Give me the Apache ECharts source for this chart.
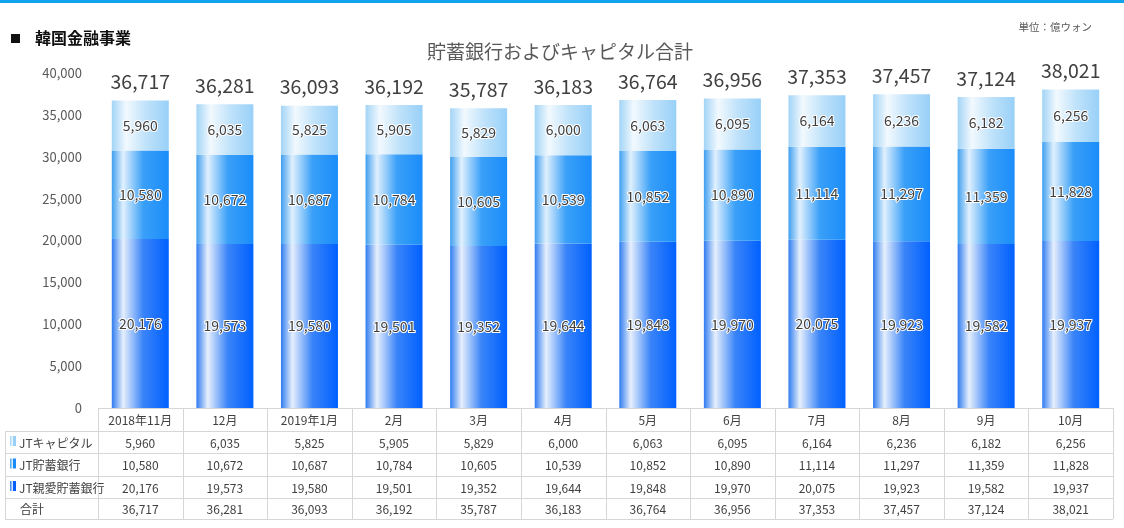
<!DOCTYPE html>
<html><head><meta charset="utf-8">
<script src="https://cdn.jsdelivr.net/npm/echarts@6/dist/echarts.min.js"></script>
<style>html,body{margin:0;padding:0;background:#fff}#c{width:1124px;height:528px}</style>
</head><body><div id="c"></div>
<script>
const categories = ['2018年11月','12月','2019年1月','2月','3月','4月','5月','6月','7月','8月','9月','10月'];
const capital = [5960,6035,5825,5905,5829,6000,6063,6095,6164,6236,6182,6256];
const savings = [10580,10672,10687,10784,10605,10539,10852,10890,11114,11297,11359,11828];
const shinai = [20176,19573,19580,19501,19352,19644,19848,19970,20075,19923,19582,19937];
const totals = [36717,36281,36093,36192,35787,36183,36764,36956,37353,37457,37124,38021];
const seriesNames = ['JTキャピタル','JT貯蓄銀行','JT親愛貯蓄銀行'];
const totalName = '合計';

(function(){
const FONT = '"Noto Sans CJK JP","Noto Sans",sans-serif';
const fmt = v => v.toLocaleString('en-US');
function grad(stops){
  return new echarts.graphic.LinearGradient(0,0,1,0, stops.map(s=>({offset:s[0],color:s[1]})));
}
const gShinai = () => grad([[0,'#2f7cf0'],[0.2,'#e6effc'],[0.55,'#3a84f8'],[1,'#0060ff']]);
const gSavings = () => grad([[0,'#3f9ff0'],[0.2,'#e0f0fd'],[0.55,'#3aa0f8'],[1,'#1a8cfa']]);
const gCapital = () => grad([[0,'#a2d4f6'],[0.25,'#f2f9fe'],[0.6,'#bfe2fa'],[1,'#98d0f8']]);

const segLabel = {
  show:true, position:'inside', fontSize:14, color:'#404040', fontFamily:FONT,
  textBorderColor:'#ffffff', textBorderWidth:2, formatter:p=>fmt(p.value)
};

const chart = echarts.init(document.getElementById('c'));
chart.setOption({
  animation:false,
  backgroundColor:'#fff',
  grid:{left:98,right:11,top:73,bottom:120,containLabel:false},
  xAxis:{type:'category',data:categories,axisLine:{show:false},axisTick:{show:false},axisLabel:{show:false}},
  yAxis:{type:'value',min:0,max:40000,interval:5000,
    axisLine:{show:false},axisTick:{show:false},splitLine:{show:false},
    axisLabel:{margin:16,fontSize:13,color:'#595959',fontFamily:FONT,formatter:v=>fmt(v)}},
  series:[
    {name:seriesNames[2],type:'bar',stack:'a',data:shinai,barWidth:57,itemStyle:{color:gShinai()},label:segLabel},
    {name:seriesNames[1],type:'bar',stack:'a',data:savings,barWidth:57,itemStyle:{color:gSavings()},label:segLabel},
    {name:seriesNames[0],type:'bar',stack:'a',data:capital,barWidth:57,itemStyle:{color:gCapital()},
      label:segLabel},
    {name:totalName,type:'bar',stack:'a',data:capital.map(()=>0),barWidth:57,silent:true,
      label:{show:true,position:'top',distance:9,fontSize:19.5,color:'#404040',fontFamily:FONT,
        formatter:p=>fmt(totals[p.dataIndex])}}
  ]
});

const g = [];
const tableTop = 408, rowH = [23,22,23,22,21];
const rowY = [tableTop]; rowH.forEach(h=>rowY.push(rowY[rowY.length-1]+h));
const cx0 = chart.convertToPixel({xAxisIndex:0},0);
const cx1 = chart.convertToPixel({xAxisIndex:0},1);
const colW = cx1-cx0;
const tLeft = cx0-colW/2, tRight = chart.convertToPixel({xAxisIndex:0},categories.length-1)+colW/2;
const labLeft = 5;
const lineStyle = {stroke:'#d6d6d6',lineWidth:1};
g.push({type:'line',shape:{x1:tLeft,y1:rowY[0]+0.5,x2:tRight,y2:rowY[0]+0.5},style:lineStyle});
for(let r=1;r<rowY.length;r++){
  g.push({type:'line',shape:{x1:labLeft,y1:rowY[r]+0.5,x2:tRight,y2:rowY[r]+0.5},style:lineStyle});
}
g.push({type:'line',shape:{x1:labLeft+0.5,y1:rowY[1],x2:labLeft+0.5,y2:rowY[5]},style:lineStyle});
for(let i=0;i<=categories.length;i++){
  const x = Math.round(tLeft+i*colW)+0.5;
  g.push({type:'line',shape:{x1:x,y1:rowY[0],x2:x,y2:rowY[5]},style:lineStyle});
}
const rows = [
  {name:seriesNames[0],data:capital,icon:['#a2d4f6','#f2f9fe','#98d0f8']},
  {name:seriesNames[1],data:savings,icon:['#3f9ff0','#e0f0fd','#1a8cfa']},
  {name:seriesNames[2],data:shinai,icon:['#2f7cf0','#e6effc','#0060ff']},
  {name:totalName,data:totals,icon:null}
];
const tStyle = (t,x,y,align)=>({type:'text',x:x,y:y,style:{text:t,fill:'#404040',font:'12px '+FONT,align:align,verticalAlign:'middle'}});
categories.forEach((c,i)=>{
  const cx = chart.convertToPixel({xAxisIndex:0},i);
  g.push(tStyle(c,cx,(rowY[0]+rowY[1])/2+1,'center'));
  rows.forEach((r,k)=>{
    g.push(tStyle(fmt(r.data[i]),cx,(rowY[k+1]+rowY[k+2])/2+1,'center'));
  });
});
rows.forEach((r,k)=>{
  const cy = (rowY[k+1]+rowY[k+2])/2;
  if(r.icon){
    g.push({type:'rect',shape:{x:10,y:cy-6,width:6,height:10},
      style:{fill:new echarts.graphic.LinearGradient(0,0,1,0,[{offset:0,color:r.icon[0]},{offset:0.45,color:r.icon[1]},{offset:0.55,color:r.icon[2]},{offset:1,color:r.icon[2]}])}});
    g.push(tStyle(r.name,19,cy+1,'left'));
  } else {
    g.push(tStyle(r.name,20,cy+1,'left'));
  }
});
g.push({type:'rect',shape:{x:0,y:0,width:1124,height:3},style:{fill:'#11a4ee'}});
g.push({type:'rect',shape:{x:11,y:34,width:9,height:9},style:{fill:'#111'}});
g.push({type:'text',x:35,y:38,style:{text:'韓国金融事業',fill:'#111',font:'bold 16px '+FONT,verticalAlign:'middle'}});
g.push({type:'text',x:560,y:52,style:{text:'貯蓄銀行およびキャピタル合計',fill:'#595959',font:'19px '+FONT,align:'center',verticalAlign:'middle'}});
g.push({type:'text',x:1092,y:27,style:{text:'単位：億ウォン',fill:'#595959',font:'10.5px '+FONT,align:'right',verticalAlign:'middle'}});
chart.setOption({graphic:{elements:g}});
})();
</script></body></html>
